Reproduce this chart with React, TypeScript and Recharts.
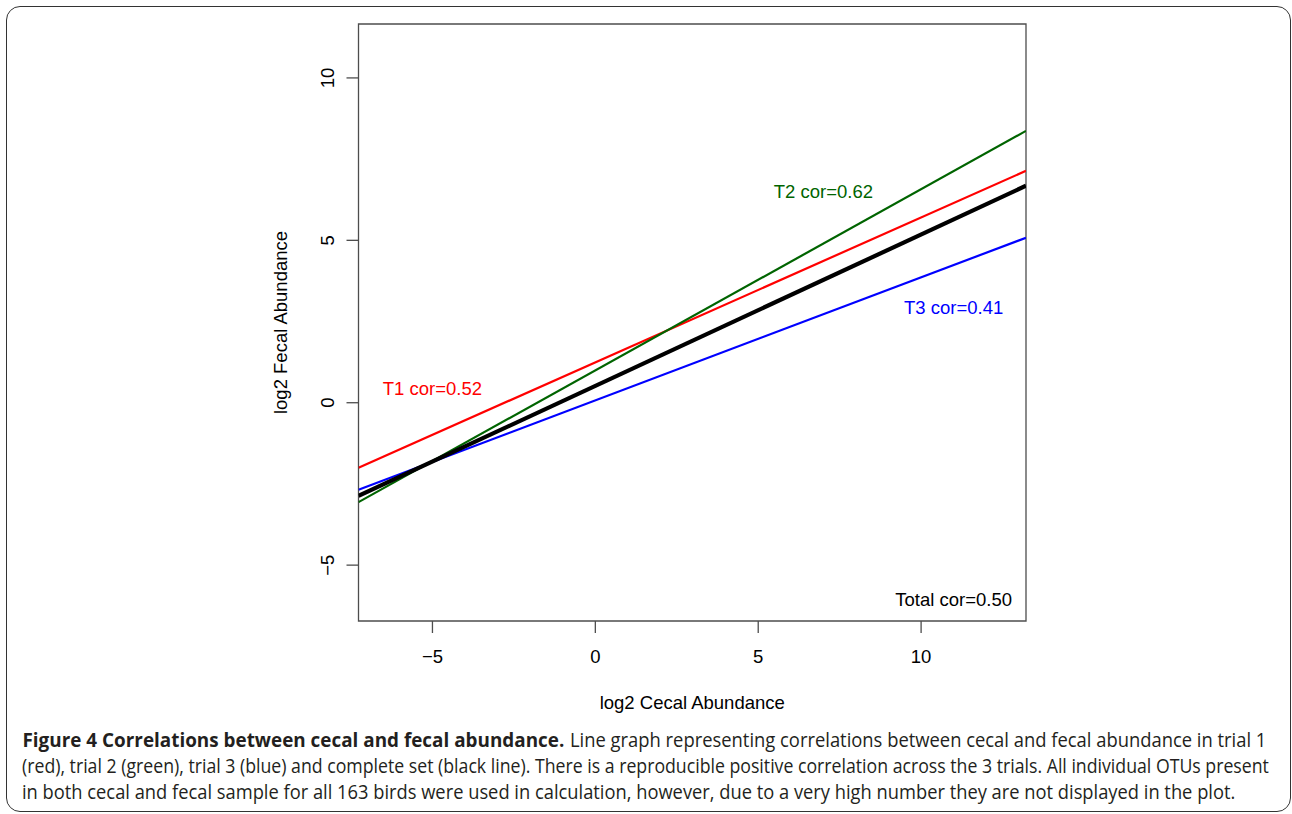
import React, { useLayoutEffect, useRef, useState } from 'react';
import {
  LineChart,
  Line,
  XAxis,
  YAxis,
  ReferenceArea,
  ReferenceDot,
  Label,
} from 'recharts';

// plot window (R usr coordinates) and tick positions
const xLimits = [-7.27, 13.22];
const yLimits = [-6.72, 11.66];
const xTicks = [-5, 0, 5, 10];
const yTicks = [-5, 0, 5, 10];

// fitted lines, sampled at the left and right edge of the plot
const xEnds = [-7.27, 13.22];
const trial1 = [-2.0, 7.14];
const trial2 = [-3.06, 8.37];
const trial3 = [-2.68, 5.08];
const total = [-2.87, 6.68];

// correlation annotations: [x, y, text, colour]
const notes: [number, number, string, string][] = [
  [-5, 0.45, 'T1 cor=0.52', '#ff0000'],
  [7, 6.5, 'T2 cor=0.62', '#006400'],
  [11, 2.95, 'T3 cor=0.41', '#0000ff'],
  [11, -6.05, 'Total cor=0.50', '#000000'],
];

const chartData = xEnds.map((x, i) => ({
  x,
  t1: trial1[i],
  t2: trial2[i],
  t3: trial3[i],
  total: total[i],
}));

const plotFont = '"Liberation Sans", Arial, Helvetica, sans-serif';
const capFont = '"Open Sans", "Noto Sans", sans-serif';
const fmt = (v: number) => (v < 0 ? '\u2212' + Math.abs(v) : String(v));

const XTick = (props: any) => (
  <text x={props.x} y={props.y + 30} textAnchor="middle" fontSize={18.5} fontFamily={plotFont} fill="#000">
    {fmt(props.payload.value)}
  </text>
);

const YTick = (props: any) => (
  <text
    transform={`translate(${props.x - 12.5},${props.y}) rotate(-90)`}
    textAnchor="middle"
    fontSize={18.5}
    fontFamily={plotFont}
    fill="#000"
  >
    {fmt(props.payload.value)}
  </text>
);

const noteLabel = (text: string, color: string) => (props: any) => {
  const vb = props.viewBox || {};
  const cx = vb.x + (vb.width || 0) / 2;
  const cy = vb.y + (vb.height || 0) / 2;
  return (
    <text x={cx} y={cy} dy="0.36em" textAnchor="middle" fontSize={18.5} fontFamily={plotFont} fill={color}>
      {text}
    </text>
  );
};

// caption line squeezed horizontally to a given width (the journal font is condensed)
const FitText: React.FC<{ x: number; y: number; width: number; bold?: boolean; children: string }> = ({
  x,
  y,
  width,
  bold,
  children,
}) => {
  const ref = useRef<SVGTextElement>(null);
  const [sx, setSx] = useState(1);
  useLayoutEffect(() => {
    if (ref.current) {
      const w = ref.current.getComputedTextLength();
      if (w > 0) setSx(width / w);
    }
  }, [width, children]);
  return (
    <text ref={ref} transform={`translate(${x},${y}) scale(${sx},1)`} fontWeight={bold ? 700 : 400}>
      {children}
    </text>
  );
};

const App: React.FC = () => {
  return (
    <div style={{ position: 'relative', width: 1292, height: 814, background: '#fff', overflow: 'hidden' }}>
      <style>{'body{margin:0}'}</style>
      <div
        style={{
          position: 'absolute',
          left: 5.5,
          top: 5.5,
          width: 1285,
          height: 806.5,
          border: '1.5px solid #333',
          borderRadius: 14,
          boxSizing: 'border-box',
        }}
      />
      <div style={{ position: 'absolute', left: 0, top: 0 }}>
        <LineChart width={1292} height={730} data={chartData} margin={{ top: 24, right: 266, bottom: 0, left: 0 }}>
          <XAxis
            dataKey="x"
            type="number"
            domain={xLimits}
            ticks={xTicks}
            allowDataOverflow
            height={109}
            axisLine={false}
            tickSize={12}
            tickMargin={0}
            tickLine={{ stroke: '#4d4d4d', strokeWidth: 1.3 }}
            tick={<XTick />}
          >
            <Label
              content={(p: any) => (
                <text
                  x={p.viewBox.x + p.viewBox.width / 2}
                  y={p.viewBox.y + 88}
                  textAnchor="middle"
                  fontSize={18.5}
                  fontFamily={plotFont}
                  fill="#000"
                >
                  log2 Cecal Abundance
                </text>
              )}
            />
          </XAxis>
          <YAxis
            type="number"
            domain={yLimits}
            ticks={yTicks}
            allowDataOverflow
            width={358.5}
            axisLine={false}
            tickSize={12}
            tickMargin={0}
            tickLine={{ stroke: '#4d4d4d', strokeWidth: 1.3 }}
            tick={<YTick />}
          >
            <Label
              content={(p: any) => (
                <text
                  transform={`translate(287,${p.viewBox.y + p.viewBox.height / 2}) rotate(-90)`}
                  textAnchor="middle"
                  fontSize={18.5}
                  fontFamily={plotFont}
                  fill="#000"
                >
                  log2 Fecal Abundance
                </text>
              )}
            />
          </YAxis>
          <ReferenceArea
            x1={xLimits[0]}
            x2={xLimits[1]}
            y1={yLimits[0]}
            y2={yLimits[1]}
            fill="none"
            stroke="#4d4d4d"
            strokeWidth={1.3}
          />
          <Line type="linear" dataKey="t1" stroke="#ff0000" strokeWidth={2.2} dot={false} isAnimationActive={false} />
          <Line type="linear" dataKey="t3" stroke="#0000ff" strokeWidth={2.2} dot={false} isAnimationActive={false} />
          <Line type="linear" dataKey="t2" stroke="#006400" strokeWidth={2.2} dot={false} isAnimationActive={false} />
          <Line type="linear" dataKey="total" stroke="#000000" strokeWidth={4.2} dot={false} isAnimationActive={false} />
          {notes.map(([x, y, text, color]) => (
            <ReferenceDot
              key={text}
              x={x}
              y={y}
              r={1}
              fill="none"
              stroke="none"
              label={{ content: noteLabel(text, color) }}
            />
          ))}
        </LineChart>
      </div>
      <svg width={1292} height={814} style={{ position: 'absolute', left: 0, top: 0 }}>
        <g fontFamily={capFont} fontSize={19.5} fill="#231f20">
          <FitText x={22.5} y={746.5} width={542} bold>
            Figure 4 Correlations between cecal and fecal abundance.
          </FitText>
          <FitText x={570} y={746.5} width={697}>
            Line graph representing correlations between cecal and fecal abundance in trial 1
          </FitText>
          <FitText x={22} y={772.5} width={1248}>
            (red), trial 2 (green), trial 3 (blue) and complete set (black line). There is a reproducible positive correlation across the 3 trials. All individual OTUs present
          </FitText>
          <FitText x={22} y={798.5} width={1214}>
            in both cecal and fecal sample for all 163 birds were used in calculation, however, due to a very high number they are not displayed in the plot.
          </FitText>
        </g>
      </svg>
    </div>
  );
};

export default App;
